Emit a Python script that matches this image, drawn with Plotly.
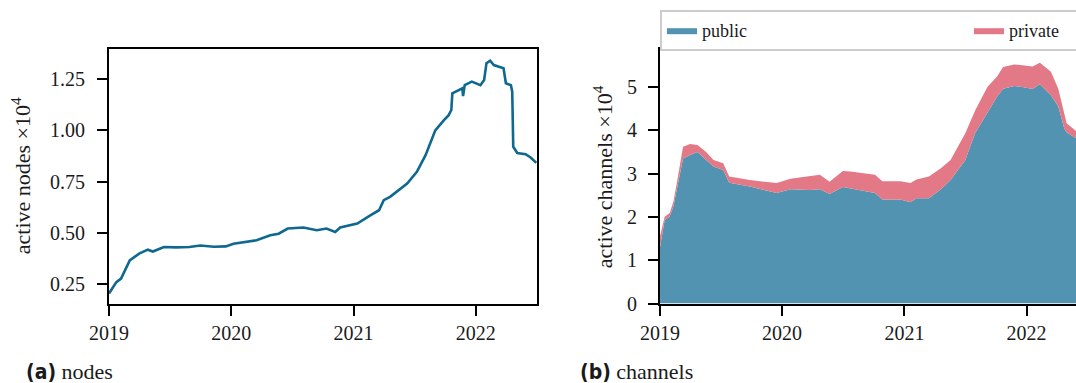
import plotly.graph_objects as go

# ---------------- data ----------------
node_dates = [
    "2019-01-01", "2019-01-23", "2019-02-06", "2019-03-04", "2019-04-01", "2019-04-27",
    "2019-05-12", "2019-06-14", "2019-07-20", "2019-08-29", "2019-10-01", "2019-11-10",
    "2019-12-16", "2020-01-08", "2020-03-17", "2020-04-27", "2020-05-22", "2020-06-18",
    "2020-08-04", "2020-09-13", "2020-10-12", "2020-11-07", "2020-11-22", "2021-01-12",
    "2021-02-21", "2021-03-18", "2021-04-01", "2021-04-20", "2021-06-10", "2021-07-09",
    "2021-08-04", "2021-09-02", "2021-09-28", "2021-10-12", "2021-10-20", "2021-10-23",
    "2021-11-22", "2021-11-24", "2021-11-29", "2021-12-20", "2022-01-15", "2022-01-26",
    "2022-02-02", "2022-02-13", "2022-02-24", "2022-03-25", "2022-04-01", "2022-04-16",
    "2022-04-20", "2022-04-23", "2022-05-05", "2022-05-30", "2022-06-14", "2022-07-01",
]
active_nodes = [
    0.206, 0.261, 0.278, 0.367, 0.400, 0.419,
    0.410, 0.432, 0.430, 0.432, 0.439, 0.433,
    0.435, 0.448, 0.465, 0.489, 0.497, 0.522,
    0.527, 0.514, 0.522, 0.505, 0.527, 0.546,
    0.587, 0.611, 0.660, 0.676, 0.741, 0.798,
    0.879, 1.000, 1.050, 1.074, 1.099, 1.180,
    1.205, 1.167, 1.220, 1.237, 1.220, 1.245,
    1.327, 1.339, 1.318, 1.302, 1.229, 1.220,
    1.188, 0.920, 0.890, 0.884, 0.868, 0.842,
]

channel_dates = [
    "2019-01-01", "2019-01-15", "2019-01-30", "2019-02-10", "2019-02-21", "2019-03-11",
    "2019-04-01", "2019-04-23", "2019-05-19", "2019-06-10", "2019-07-09", "2019-07-27",
    "2019-09-27", "2019-11-06", "2019-12-16", "2020-01-26", "2020-03-25", "2020-04-23",
    "2020-05-22", "2020-07-01", "2020-07-23", "2020-09-02", "2020-10-05", "2020-10-27",
    "2020-12-20", "2021-01-19", "2021-02-06", "2021-03-15", "2021-04-20", "2021-05-19",
    "2021-07-02", "2021-07-31", "2021-09-06", "2021-10-05", "2021-10-23", "2021-11-25",
    "2021-12-24", "2022-01-19", "2022-02-10", "2022-03-15", "2022-04-06", "2022-04-24",
    "2022-05-01", "2022-05-31", "2022-07-01",
]
public_channels = [
    1.30, 1.93, 2.01, 2.24, 2.66, 3.35,
    3.43, 3.50, 3.31, 3.16, 3.08, 2.79,
    2.70, 2.62, 2.55, 2.64, 2.62, 2.64,
    2.53, 2.69, 2.66, 2.59, 2.55, 2.40,
    2.40, 2.34, 2.43, 2.43, 2.64, 2.85,
    3.31, 3.93, 4.42, 4.77, 4.96, 5.02,
    4.99, 4.95, 5.06, 4.81, 4.55, 4.04,
    3.95, 3.81, 3.70,
]
private_channels = [
    0.25, 0.07, 0.08, 0.11, 0.15, 0.27,
    0.25, 0.16, 0.19, 0.15, 0.16, 0.14,
    0.15, 0.19, 0.23, 0.24, 0.32, 0.33,
    0.28, 0.37, 0.39, 0.42, 0.42, 0.42,
    0.42, 0.44, 0.43, 0.50, 0.48, 0.46,
    0.62, 0.52, 0.58, 0.47, 0.50, 0.50,
    0.51, 0.52, 0.50, 0.54, 0.41, 0.35,
    0.21, 0.16, 0.15,
]

x_ticks = ["2019-01-01", "2020-01-01", "2021-01-01", "2022-01-01"]
x_tick_labels = ["2019", "2020", "2021", "2022"]
nodes_ticks = [0.25, 0.50, 0.75, 1.00, 1.25]
nodes_tick_labels = ["0.25", "0.50", "0.75", "1.00", "1.25"]
chan_ticks = [0, 1, 2, 3, 4, 5]
chan_tick_labels = ["0", "1", "2", "3", "4", "5"]

# ---------------- style ----------------
SERIF = "Liberation Serif"
FS = 20
W, H = 1076, 383
LINE_C = "#0e6890"
PUB_C = "#5193b0"
PRI_C = "#e37886"
TXT_C = "#1a1a1a"
NODES_RANGE = [0.157, 1.396]
CHAN_RANGE = [0, 5.875]

fig = go.Figure()
fig.add_trace(go.Scatter(x=node_dates, y=active_nodes, mode="lines",
                         line=dict(color=LINE_C, width=2.6), showlegend=False,
                         xaxis="x", yaxis="y"))
fig.add_trace(go.Scatter(x=channel_dates, y=public_channels, mode="lines", name="public",
                         stackgroup="one", line=dict(width=0, color=PUB_C),
                         fillcolor=PUB_C, xaxis="x2", yaxis="y2"))
fig.add_trace(go.Scatter(x=channel_dates, y=private_channels, mode="lines", name="private",
                         stackgroup="one", line=dict(width=0, color=PRI_C),
                         fillcolor=PRI_C, xaxis="x2", yaxis="y2"))

ydom = [1 - 303.5 / H, 1 - 49 / H]
common_axis = dict(showgrid=False, zeroline=False, showline=True, linecolor="black",
                   linewidth=2, ticks="outside", ticklen=10, tickwidth=1.8,
                   tickcolor="black", tickfont=dict(family=SERIF, size=FS, color=TXT_C))

fig.update_layout(
    width=W, height=H,
    margin=dict(l=0, r=0, t=0, b=0, autoexpand=False),
    plot_bgcolor="white", paper_bgcolor="white",
    xaxis=dict(domain=[109 / W, 537 / W], range=["2019-01-01", "2022-07-03"],
               tickvals=x_ticks, ticktext=x_tick_labels, mirror=True,
               anchor="y", **common_axis),
    yaxis=dict(domain=ydom, range=NODES_RANGE, tickvals=nodes_ticks,
               showticklabels=False, mirror=True, anchor="x", **common_axis),
    xaxis2=dict(domain=[660 / W, 1.0], range=["2019-01-01", "2022-05-29"],
                tickvals=x_ticks, ticktext=x_tick_labels, mirror=True,
                anchor="y2", **common_axis),
    yaxis2=dict(domain=ydom, range=CHAN_RANGE, tickvals=chan_ticks,
                showticklabels=False, mirror=False, anchor="x2", **common_axis),
    legend=dict(orientation="h", xref="container", yref="container",
                x=660 / W, xanchor="left", y=1 - 10 / H, yanchor="top",
                bgcolor="white", bordercolor="#cccccc", borderwidth=2,
                font=dict(family=SERIF, size=18, color=TXT_C),
                traceorder="normal",
                entrywidth=262, entrywidthmode="pixels", itemsizing="constant"),
    showlegend=True,
)

# y tick labels, placed at the tick values with a matplotlib-like gap to the ticks
for v, t in zip(nodes_ticks, nodes_tick_labels):
    fig.add_annotation(xref="paper", yref="y", x=87 / W, y=v, text=t, showarrow=False,
                       xanchor="right", yanchor="middle",
                       font=dict(family=SERIF, size=FS, color=TXT_C))
for v, t in zip(chan_ticks, chan_tick_labels):
    fig.add_annotation(xref="paper", yref="y2", x=639 / W, y=v, text=t, showarrow=False,
                       xanchor="right", yanchor="middle",
                       font=dict(family=SERIF, size=FS, color=TXT_C))

annots = [
    dict(text="active nodes ×10<sup>4</sup>", x=21 / W, y=(ydom[0] + ydom[1]) / 2,
         textangle=-90),
    dict(text="active channels ×10<sup>4</sup>", x=603 / W, y=(ydom[0] + ydom[1]) / 2,
         textangle=-90),
]
for a in annots:
    fig.add_annotation(xref="paper", yref="paper", showarrow=False, xanchor="center",
                       yanchor="middle", font=dict(family=SERIF, size=22, color=TXT_C), **a)

caption_font = "font-family:'DejaVu Sans Condensed','DejaVu Sans',sans-serif;font-weight:bold;font-size:21px"
fig.add_annotation(xref="paper", yref="paper", x=24 / W, y=1 - 371 / H, xanchor="left",
                   yanchor="middle", showarrow=False,
                   text=f"<span style=\"{caption_font}\">(a)</span> nodes",
                   font=dict(family=SERIF, size=22, color=TXT_C))
fig.add_annotation(xref="paper", yref="paper", x=578 / W, y=1 - 371 / H, xanchor="left",
                   yanchor="middle", showarrow=False,
                   text=f"<span style=\"{caption_font}\">(b)</span> channels",
                   font=dict(family=SERIF, size=22, color=TXT_C))

fig.write_html("out.html")
